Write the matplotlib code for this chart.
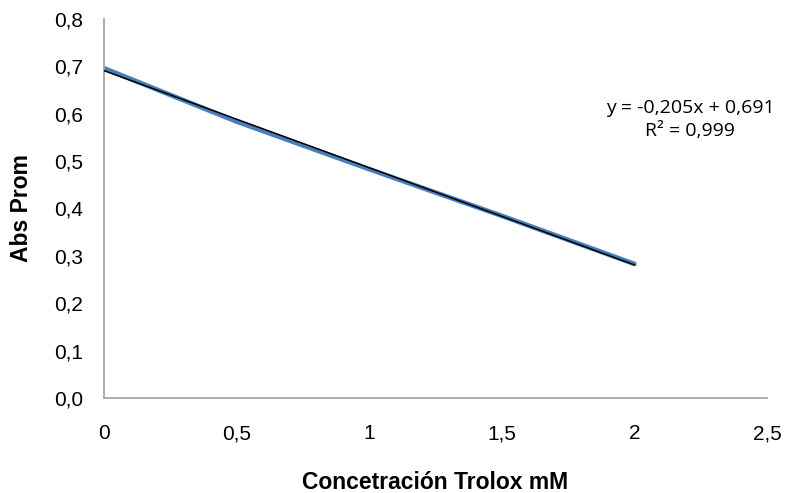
import numpy as np
import matplotlib
matplotlib.use('Agg')
import matplotlib.pyplot as plt

# Trolox calibration: mean absorbance vs concentration
conc = [0, 0.5, 1, 1.5, 2]
abs_prom = [0.696, 0.5835, 0.483, 0.3845, 0.283]
xticks = [0, 0.5, 1, 1.5, 2, 2.5]
yticks = [0, 0.1, 0.2, 0.3, 0.4, 0.5, 0.6, 0.7, 0.8]

BLUE = '#4a7ebb'
AXC = '#a6a6a6'

slope, icpt = np.polyfit(conc, abs_prom, 1)
y = np.array(abs_prom)
r2 = 1 - np.sum((y - np.polyval([slope, icpt], conc)) ** 2) / np.sum((y - y.mean()) ** 2)

fig = plt.figure(figsize=(7.87, 4.93), dpi=100)
ax = fig.add_axes([0.1321, 0.1927, 0.8425, 0.7688])

ax.plot(conc, abs_prom, color=BLUE, lw=3.4, solid_capstyle='round', zorder=2)
ax.plot([conc[0], conc[-1]], np.polyval([slope, icpt], [conc[0], conc[-1]]),
        color='black', lw=1.1, zorder=3)

ax.set_xlim(0, 2.5)
ax.set_ylim(0, 0.8)
ax.set_xticks(xticks)
ax.set_xticklabels([f'{t:g}'.replace('.', ',') for t in xticks])
ax.set_yticks(yticks)
ax.set_yticklabels([f'{t:.1f}'.replace('.', ',') for t in yticks])
for s in ['top', 'right']:
    ax.spines[s].set_visible(False)
for s in ['left', 'bottom']:
    ax.spines[s].set_color(AXC)
    ax.spines[s].set_linewidth(1.3)
ax.tick_params(length=0, labelsize=15)
ax.tick_params(axis='x', pad=19)
ax.tick_params(axis='y', pad=15)
for lab in ax.get_xticklabels() + ax.get_yticklabels():
    lab.set_family('Liberation Sans')

ax.set_xlabel('Concetración Trolox mM', fontsize=16.5, fontweight='bold', family='Liberation Sans')
ax.set_ylabel('Abs Prom', fontsize=16.5, fontweight='bold', family='Liberation Sans')
ax.xaxis.set_label_coords(0.5, -(482 - 398) / 379)
ax.xaxis.label.set_va('center')
ax.yaxis.set_label_coords(-(104 - 22) / 663, 0.5)
ax.yaxis.label.set_va('center')

eq = f'y = {slope:.3f}x + {icpt:.3f}'.replace('.', ',')
ax.text(2.21, 0.588, eq + '\n' + f'R² = {r2:.3f}'.replace('.', ','),
        ha='center', va='center', multialignment='center', fontsize=14,
        family='Open Sans', linespacing=1.4)

fig.savefig('out.png', dpi=100)
